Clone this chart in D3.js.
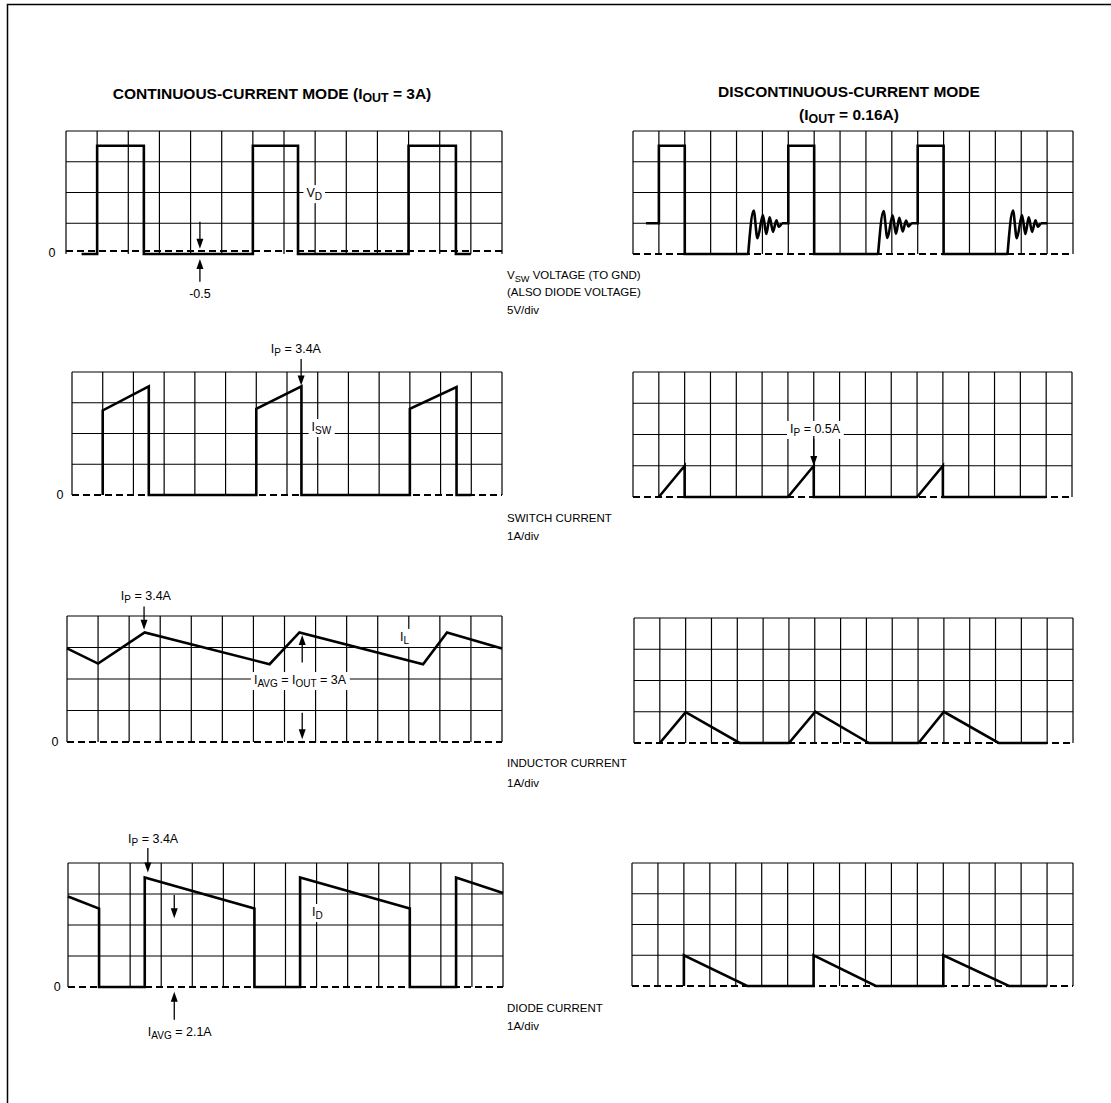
<!DOCTYPE html>
<html><head><meta charset="utf-8">
<script src="https://cdn.jsdelivr.net/npm/d3@7"></script>
<style>
body{margin:0;background:#fff}
svg text{font-family:"Liberation Sans",Arial,Helvetica,sans-serif;fill:#000}
</style>
</head><body>
<svg id="c" width="1111" height="1103"></svg>
<script>
// ---------- DATA (time in grid divisions, values in V or A) ----------
// Continuous-current mode
const contVswT = [0.5, 1.0, 1.0, 2.5, 2.5, 6.0, 6.0, 7.45, 7.45, 11.0, 11.0, 12.52, 12.52, 13.0];
const contVswV = [-0.5, -0.5, 17.1, 17.1, -0.5, -0.5, 17.1, 17.1, -0.5, -0.5, 17.1, 17.1, -0.5, -0.5];
const contIswT = [1.0, 1.0, 2.5, 2.5, 6.0, 6.0, 7.47, 7.47, 11.0, 11.0, 12.52, 12.52, 13.0];
const contIswV = [0, 2.75, 3.53, 0, 0, 2.8, 3.53, 0, 0, 2.8, 3.51, 0, 0];
const contIlT = [0, 1.0, 2.5, 6.52, 7.48, 11.46, 12.23, 14.0];
const contIlV = [2.97, 2.49, 3.48, 2.47, 3.48, 2.47, 3.48, 2.97];
const contIdT = [0, 1.0, 1.0, 2.47, 2.47, 6.0, 6.0, 7.47, 7.47, 11.0, 11.0, 12.49, 12.49, 14.0];
const contIdV = [2.92, 2.53, 0, 0, 3.53, 2.53, 0, 0, 3.53, 2.53, 0, 0, 3.53, 3.03];

// Discontinuous-current mode (null = gap filled by ringing segment)
const discVswT = [0.5, 1.0, 1.0, 2.0, 2.0, 4.45, null, 5.75, 6.0, 6.0, 7.0, 7.0, 9.47, null, 10.75, 11.0, 11.0, 12.0, 12.0, 14.47, null, 15.75, 16.0];
const discVswV = [5, 5, 17.6, 17.6, 0, 0, null, 5, 5, 17.6, 17.6, 0, 0, null, 5, 5, 17.6, 17.6, 0, 0, null, 5, 5];
const discRingT = [
  [4.45, 4.66, 4.81, 5.02, 5.15, 5.28, 5.41, 5.54, 5.63, 5.75],
  [9.47, 9.68, 9.83, 10.03, 10.16, 10.29, 10.42, 10.55, 10.64, 10.75],
  [14.47, 14.68, 14.83, 15.03, 15.16, 15.29, 15.42, 15.55, 15.64, 15.75]
];
const discRingV = [
  [0, 7.05, 2.55, 6.35, 3.25, 5.95, 3.6, 5.5, 4.45, 5],
  [0, 7.0, 2.6, 6.3, 3.3, 5.9, 3.65, 5.45, 4.5, 5],
  [0, 7.05, 2.55, 6.35, 3.25, 5.95, 3.6, 5.5, 4.45, 5]
];
const discIswT = [1.0, 2.0, 2.0, 6.0, 7.0, 7.0, 11.0, 12.0, 12.0, 16.0];
const discIswV = [0, 1.0, 0, 0, 1.0, 0, 0, 1.0, 0, 0];
const discIlT = [1.0, 2.0, 4.09, 6.0, 7.02, 9.1, 11.02, 12.0, 14.12, 16.0];
const discIlV = [0, 0.99, 0, 0, 1.0, 0, 0, 1.0, 0, 0];
const discIdT = [2.0, 2.0, 4.44, 7.0, 7.0, 9.4, 12.0, 12.0, 14.53, 16.0];
const discIdV = [0, 1.0, 0, 0, 1.0, 0, 0, 1.0, 0, 0];

const titleLeft = ["CONTINUOUS-CURRENT MODE (I", "OUT", " = 3A)"];
const titleRight1 = "DISCONTINUOUS-CURRENT MODE";
const titleRight2 = ["(I", "OUT", " = 0.16A)"];
const sideLabels = [
  [["V", "SW", " VOLTAGE (TO GND)"], "(ALSO DIODE VOLTAGE)", "5V/div"],
  ["SWITCH CURRENT", "1A/div"],
  ["INDUCTOR CURRENT", "1A/div"],
  ["DIODE CURRENT", "1A/div"]
];

// ---------- DRAWING ----------
const svg = d3.select("#c");
const GRID_W = 1.2, TRACE_W = 2.6, ANN = 12.5;

// outer frame
svg.append("path").attr("d", "M7.5,1103 V4.5 H1111").attr("fill", "none").attr("stroke", "#000").attr("stroke-width", 1.5);

function zip(t, v) { return t.map((d, i) => ({t: d, v: v[i]})); }

function panel(cfg) {
  const g = svg.append("g");
  const x = d3.scaleLinear().domain([0, cfg.cols]).range([cfg.x0, cfg.x1]);
  const yd = d3.scaleLinear().domain([0, 4]).range([cfg.bottom, cfg.top]);
  const y = d3.scaleLinear().domain(cfg.yDomain).range([cfg.bottom, cfg.top]);
  g.selectAll("line.v").data(d3.range(0, cfg.cols + 1)).join("line")
    .attr("x1", d => x(d)).attr("x2", d => x(d)).attr("y1", cfg.top).attr("y2", cfg.bottom)
    .attr("stroke", "#000").attr("stroke-width", GRID_W);
  g.selectAll("line.h").data([1, 2, 3, 4]).join("line")
    .attr("x1", cfg.x0).attr("x2", cfg.x1).attr("y1", d => yd(d)).attr("y2", d => yd(d))
    .attr("stroke", "#000").attr("stroke-width", GRID_W);
  g.append("line").attr("x1", cfg.x0).attr("x2", cfg.x1).attr("y1", y(0)).attr("y2", y(0))
    .attr("stroke", "#000").attr("stroke-width", 2).attr("stroke-dasharray", "7,4");
  return {g, x, y, yd, cfg};
}

function trace(p, t, v, curve) {
  const line = d3.line().defined(d => d.t !== null && d.v !== null)
    .x(d => p.x(d.t)).y(d => p.y(d.v)).curve(curve || d3.curveLinear);
  p.g.append("path").attr("d", line(zip(t, v))).attr("fill", "none")
    .attr("stroke", "#000").attr("stroke-width", TRACE_W).attr("stroke-linejoin", "miter");
}

function rich(parent, x, y, parts, opts) {
  opts = opts || {};
  const t = parent.append("text").attr("x", x).attr("y", y)
    .attr("font-size", opts.size || ANN).attr("text-anchor", opts.anchor || "start");
  if (opts.bold) t.attr("font-weight", "bold");
  if (typeof parts === "string") parts = [parts];
  parts.forEach((s, i) => {
    const ts = t.append("tspan").text(s);
    if (i % 2 === 1) { ts.attr("font-size", "80%").attr("dy", 3); }
    else if (i > 0) { ts.attr("dy", -3); }
  });
  return t;
}
function labelBg(p, x, y, parts, opts) {
  const bgG = p.g.append("g");
  const t = rich(p.g, x, y, parts, opts);
  const b = t.node().getBBox();
  bgG.append("rect").attr("x", b.x - 3).attr("y", b.y - 1).attr("width", b.width + 6).attr("height", b.height + 2).attr("fill", "#fff");
  return t;
}
function arrow(p, t, d0, d1) {
  const xx = p.x(t), ya = p.yd(d0), yb = p.yd(d1);
  const dir = yb > ya ? 1 : -1;
  p.g.append("line").attr("x1", xx).attr("x2", xx).attr("y1", ya).attr("y2", yb - dir * 6)
    .attr("stroke", "#000").attr("stroke-width", 1.3);
  p.g.append("path").attr("d", `M${xx},${yb} L${xx - 3.5},${yb - dir * 10} L${xx + 3.5},${yb - dir * 10} Z`).attr("fill", "#000");
}

// ---- Left column ----
const L1 = panel({x0: 66, x1: 502, top: 131, bottom: 254, cols: 14, yDomain: [-0.5, 19.5]});
trace(L1, contVswT, contVswV);
labelBg(L1, L1.x(7.72), L1.yd(1.85), ["V", "D"]);
arrow(L1, 4.30, 1.05, 0.17);
arrow(L1, 4.30, -0.90, -0.16);
rich(L1.g, L1.x(4.30), L1.yd(-1.42), "-0.5", {anchor: "middle"});
rich(L1.g, L1.x(-0.45), L1.yd(-0.1), "0", {anchor: "middle"});

const L2 = panel({x0: 72, x1: 502, top: 372, bottom: 495, cols: 14, yDomain: [0, 4]});
trace(L2, contIswT, contIswV);
rich(L2.g, L2.x(7.29), L2.yd(4.62), ["I", "P", " = 3.4A"], {anchor: "middle"});
arrow(L2, 7.46, 4.42, 3.56);
labelBg(L2, L2.x(7.8), L2.yd(2.08), ["I", "SW"]);
rich(L2.g, L2.x(-0.39), L2.yd(-0.13), "0", {anchor: "middle"});

const L3 = panel({x0: 67, x1: 502, top: 616, bottom: 742, cols: 14, yDomain: [0, 4]});
trace(L3, contIlT, contIlV);
rich(L3.g, L3.x(2.54), L3.yd(4.51), ["I", "P", " = 3.4A"], {anchor: "middle"});
arrow(L3, 2.48, 4.30, 3.56);
arrow(L3, 7.57, 2.52, 3.40);
arrow(L3, 7.57, 0.93, 0.09);
labelBg(L3, L3.x(7.5), L3.yd(1.84), ["I", "AVG", " = I", "OUT", " = 3A"], {anchor: "middle"});
labelBg(L3, L3.x(10.72), L3.yd(3.21), ["I", "L"]);
rich(L3.g, L3.x(-0.39), L3.yd(-0.13), "0", {anchor: "middle"});

const L4 = panel({x0: 68, x1: 503, top: 863, bottom: 987, cols: 14, yDomain: [0, 4]});
trace(L4, contIdT, contIdV);
rich(L4.g, L4.x(2.74), L4.yd(4.65), ["I", "P", " = 3.4A"], {anchor: "middle"});
arrow(L4, 2.57, 4.48, 3.69);
arrow(L4, 3.42, 2.97, 2.22);
arrow(L4, 3.42, -1.06, -0.15);
rich(L4.g, L4.x(2.57), L4.yd(-1.58), ["I", "AVG", " = 2.1A"]);
labelBg(L4, L4.x(7.85), L4.yd(2.29), ["I", "D"]);
rich(L4.g, L4.x(-0.35), L4.yd(-0.13), "0", {anchor: "middle"});

// ---- Right column ----
const R1 = panel({x0: 633, x1: 1073, top: 131, bottom: 254, cols: 17, yDomain: [0, 20]});
trace(R1, discVswT, discVswV);
discRingT.forEach((rt, i) => trace(R1, rt, discRingV[i], d3.curveMonotoneX));

const R2 = panel({x0: 633, x1: 1072, top: 372, bottom: 497, cols: 17, yDomain: [0, 4]});
trace(R2, discIswT, discIswV);
labelBg(R2, R2.x(6.08), R2.yd(2.05), ["I", "P", " = 0.5A"]);
arrow(R2, 7.0, 1.95, 0.99);

const R3 = panel({x0: 634, x1: 1073, top: 618, bottom: 743, cols: 17, yDomain: [0, 4]});
trace(R3, discIlT, discIlV);

const R4 = panel({x0: 632, x1: 1073, top: 863, bottom: 986, cols: 17, yDomain: [0, 4]});
trace(R4, discIdT, discIdV);

// ---- titles ----
rich(svg, 272, 99, titleLeft, {anchor: "middle", bold: true, size: 15.5});
rich(svg, 849, 97, titleRight1, {anchor: "middle", bold: true, size: 15.5});
rich(svg, 849, 120, titleRight2, {anchor: "middle", bold: true, size: 15.5});

// ---- side labels ----
const sideY = [[279, 296, 314], [522, 540], [767, 787], [1012, 1030]];
sideLabels.forEach((lines, i) => {
  lines.forEach((ln, j) => rich(svg, 507, sideY[i][j], ln, {size: 11.5}));
});
</script>
</body></html>
